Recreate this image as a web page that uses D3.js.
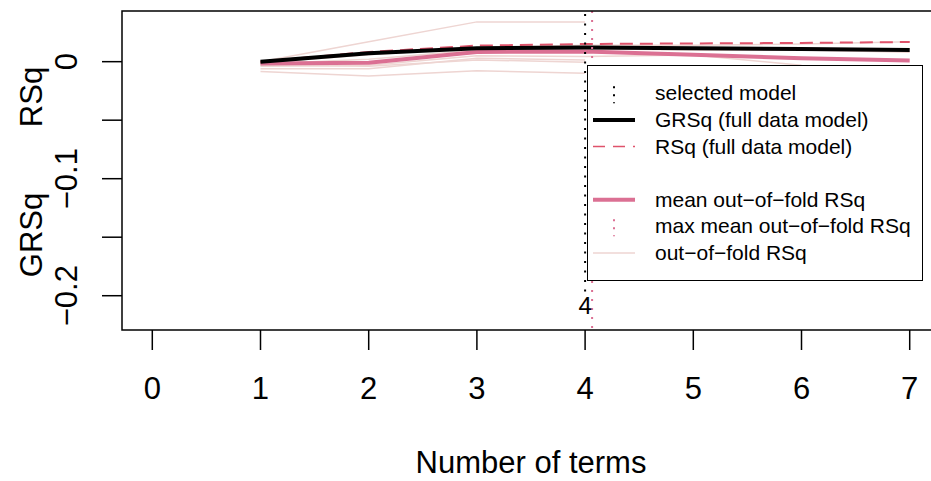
<!DOCTYPE html>
<html>
<head>
<meta charset="utf-8">
<script src="https://cdn.jsdelivr.net/npm/d3@7"></script>
<style>
  body { margin: 0; background: #fff; }
  svg { display: block; font-family: "Liberation Sans", Arial, sans-serif; }
</style>
</head>
<body>
<div id="chart"></div>
<script>
// number of terms on the x axis
const nTerms = [1, 2, 3, 4, 5, 6, 7];
const xTicks = [0, 1, 2, 3, 4, 5, 6, 7];
const yTicks = [0, -0.05, -0.1, -0.15, -0.2];
const yTickLabels = ["0", "", "\u22120.1", "", "\u22120.2"];

// full data model
const grsq = [0, 0.0072, 0.0115, 0.0121, 0.0115, 0.0109, 0.0100];
const rsq  = [0, 0.0083, 0.0137, 0.0151, 0.0156, 0.0160, 0.0168];
// cross validation
const meanOofRsq = [-0.0015, -0.0010, 0.0083, 0.0087, 0.0060, 0.0030, 0.0009];
const oofRsq = [
  [0.0, 0.017, 0.034, 0.034],
  [-0.0085, -0.0122, -0.0077, -0.0099],
  [-0.004, -0.003, 0.005, 0.0045, 0.0057, -0.003],
  [-0.006, -0.006, 0.003, 0.0015],
  [-0.002, 0.002, 0.010, 0.011, 0.010, 0.010, 0.008],
  [-0.001, 0.006, 0.012, 0.014, 0.014, 0.015, 0.017],
  [-0.003, -0.004, 0.0015, -0.0005]
];
const selectedTerms = 4;
const maxMeanOofTerms = 4;

const legendItems = [
  {label: "selected model", type: "vdot", color: "black"},
  {label: "GRSq (full data model)", type: "line", color: "black", width: 4},
  {label: "RSq (full data model)", type: "line", color: "#DF536B", width: 1.5, dash: "12 8"},
  {label: "", type: "none"},
  {label: "mean out\u2212of\u2212fold RSq", type: "line", color: "palevioletred", width: 4},
  {label: "max mean out\u2212of\u2212fold RSq", type: "vdot", color: "palevioletred"},
  {label: "out\u2212of\u2212fold RSq", type: "line", color: "#EED5D2", width: 1.5}
];

const W = 931, H = 481;
const box = {left: 122, top: 11, right: 940, bottom: 330};

const svg = d3.select("#chart").append("svg")
  .attr("width", W)
  .attr("height", H);

const x = d3.scaleLinear().domain([-0.28, 7.28]).range([box.left, box.right]);
const y = d3.scaleLinear().domain([-0.2293, 0.0433]).range([box.bottom, box.top]);

svg.append("clipPath").attr("id", "plotclip")
  .append("rect")
  .attr("x", box.left).attr("y", box.top)
  .attr("width", box.right - box.left).attr("height", box.bottom - box.top);

const plot = svg.append("g").attr("clip-path", "url(#plotclip)");

const line = d3.line()
  .x((d, i) => x(nTerms[i]))
  .y(d => y(d));

// out-of-fold curves
plot.selectAll(".oof")
  .data(oofRsq)
  .join("path")
  .attr("d", line)
  .attr("fill", "none")
  .attr("stroke", "#EED5D2")
  .attr("stroke-width", 1.5);

plot.append("path")
  .attr("d", line(meanOofRsq))
  .attr("fill", "none")
  .attr("stroke", "palevioletred")
  .attr("stroke-width", 4);

plot.append("path")
  .attr("d", line(rsq))
  .attr("fill", "none")
  .attr("stroke", "#DF536B")
  .attr("stroke-width", 2)
  .attr("stroke-dasharray", "13 7");

plot.append("path")
  .attr("d", line(grsq))
  .attr("fill", "none")
  .attr("stroke", "black")
  .attr("stroke-width", 4)
  .attr("stroke-linejoin", "round");

// vertical marker lines
plot.append("line")
  .attr("x1", x(maxMeanOofTerms) + 7).attr("x2", x(maxMeanOofTerms) + 7)
  .attr("y1", box.top).attr("y2", box.bottom)
  .attr("stroke", "palevioletred")
  .attr("stroke-width", 2)
  .attr("stroke-dasharray", "2 7");

plot.append("line")
  .attr("x1", x(selectedTerms)).attr("x2", x(selectedTerms))
  .attr("y1", box.top + 3).attr("y2", 295)
  .attr("stroke", "black")
  .attr("stroke-width", 2)
  .attr("stroke-dasharray", "2 7.5");

svg.append("text")
  .attr("x", x(selectedTerms))
  .attr("y", 314)
  .attr("text-anchor", "middle")
  .attr("font-size", 24)
  .text(selectedTerms);

// legend
const lg = svg.append("g");
lg.append("rect")
  .attr("x", 587.5).attr("y", 65.5)
  .attr("width", 335).attr("height", 215)
  .attr("fill", "white")
  .attr("stroke", "black")
  .attr("stroke-width", 1);

const rowY = i => 93.3 + i * 26.6;
legendItems.forEach((it, i) => {
  const cy = rowY(i);
  if (it.type === "line") {
    lg.append("line")
      .attr("x1", 593).attr("x2", 635)
      .attr("y1", cy).attr("y2", cy)
      .attr("stroke", it.color)
      .attr("stroke-width", it.width)
      .attr("stroke-dasharray", it.dash || null);
  } else if (it.type === "vdot") {
    lg.append("line")
      .attr("x1", 614).attr("x2", 614)
      .attr("y1", cy - 7).attr("y2", cy + 10)
      .attr("stroke", it.color)
      .attr("stroke-width", 2)
      .attr("stroke-dasharray", "2 6");
  }
  lg.append("text")
    .attr("x", 655)
    .attr("y", cy + 7)
    .attr("font-size", 21)
    .text(it.label);
});

// box
svg.append("rect")
  .attr("x", box.left).attr("y", box.top)
  .attr("width", box.right - box.left).attr("height", box.bottom - box.top)
  .attr("fill", "none")
  .attr("stroke", "black")
  .attr("stroke-width", 1.5);

// x axis
const xAxis = svg.append("g");
xAxis.selectAll("line")
  .data(xTicks)
  .join("line")
  .attr("x1", d => x(d)).attr("x2", d => x(d))
  .attr("y1", box.bottom).attr("y2", box.bottom + 20)
  .attr("stroke", "black")
  .attr("stroke-width", 1.5);
xAxis.selectAll("text")
  .data(xTicks)
  .join("text")
  .attr("x", d => x(d))
  .attr("y", 399)
  .attr("text-anchor", "middle")
  .attr("font-size", 31)
  .text(d => d);

// y axis
const yAxis = svg.append("g");
yAxis.selectAll("line")
  .data(yTicks)
  .join("line")
  .attr("x1", box.left - 20).attr("x2", box.left)
  .attr("y1", d => y(d)).attr("y2", d => y(d))
  .attr("stroke", "black")
  .attr("stroke-width", 1.5);
yAxis.selectAll("text")
  .data(yTicks)
  .join("text")
  .attr("transform", d => `translate(77,${y(d)}) rotate(-90)`)
  .attr("text-anchor", "middle")
  .attr("font-size", 31)
  .text((d, i) => yTickLabels[i]);

// axis titles
svg.append("text")
  .attr("x", (box.left + box.right) / 2)
  .attr("y", 473)
  .attr("text-anchor", "middle")
  .attr("font-size", 31)
  .text("Number of terms");

svg.append("text")
  .attr("transform", "translate(42,97) rotate(-90)")
  .attr("text-anchor", "middle")
  .attr("font-size", 31)
  .text("RSq");
svg.append("text")
  .attr("transform", "translate(42,235) rotate(-90)")
  .attr("text-anchor", "middle")
  .attr("font-size", 31)
  .text("GRSq");
</script>
</body>
</html>
